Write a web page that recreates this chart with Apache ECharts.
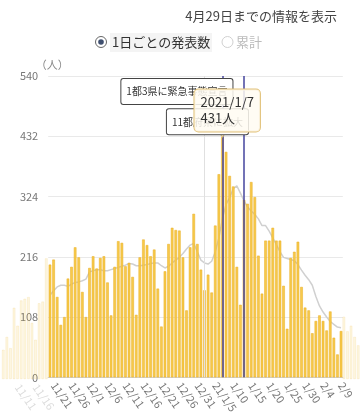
<!DOCTYPE html>
<html><head><meta charset="utf-8">
<script src="https://cdn.jsdelivr.net/npm/echarts@6/dist/echarts.min.js"></script>
<style>html,body{margin:0;padding:0;background:#fff;}#c{width:360px;height:416px;}</style>
</head><body><div id="c"></div>
<script>
// ---- data ----
const fadedLeftDates = ['11/7','11/8','11/9','11/10','11/11','11/12','11/13','11/14','11/15','11/16','11/17','11/18','11/19'];
const fadedLeftValues = [52,75,55,127,95,140,143,146,100,70,135,138,215];
const dates = ['11/20','11/21','11/22','11/23','11/24','11/25','11/26','11/27','11/28','11/29','11/30',
 '12/1','12/2','12/3','12/4','12/5','12/6','12/7','12/8','12/9','12/10','12/11','12/12','12/13','12/14','12/15','12/16','12/17','12/18','12/19','12/20','12/21','12/22','12/23','12/24','12/25','12/26','12/27','12/28','12/29','12/30','12/31',
 '1/1','1/2','1/3','1/4','1/5','1/6','1/7','1/8','1/9','1/10','1/11','1/12','1/13','1/14','1/15','1/16','1/17','1/18','1/19','1/20','1/21','1/22','1/23','1/24','1/25','1/26','1/27','1/28','1/29','1/30','1/31',
 '2/1','2/2','2/3','2/4','2/5','2/6','2/7','2/8','2/9'];
const dailyCounts = [202,211,144,94,108,177,198,233,215,153,
 108,196,217,195,214,217,170,111,198,244,
 241,199,205,180,112,215,247,237,217,229,
 159,91,190,239,268,264,263,215,120,233,
 293,239,193,156,184,152,272,364,431,404,
 361,342,198,130,318,311,350,323,218,150,
 245,245,268,245,245,164,87,214,225,243,
 162,125,120,79,101,111,101,84,118,71,
 41,83];
const weeklyAverage = [147,155,162,165,165,163,167,170,171,173,
 176,189,191,193,193,191,191,193,195,197,
 199,201,204,203,200,200,201,202,204,205,
 205,200,196,199,205,210,215,222,230,237,
 240,225,210,205,203,208,225,250,285,310,
 322,338,343,330,316,305,298,292,284,272,
 272,262,250,238,225,215,213,211,209,202,
 192,183,175,165,145,128,117,108,100,95,
 90,89];
const fadedRightDates = ['2/10','2/11','2/12','2/13','2/14'];
const fadedRightValues = [111,85,95,75,60];
const yTicks = [0,108,216,324,432,540];
const labelDates = ['11/21','11/26','12/1','12/6','12/11','12/16','12/21','12/26','12/31','1/5','1/10','1/15','1/20','1/25','1/30','2/4','2/9'];
const labelTexts = ['11/21','11/26','12/1','12/6','12/11','12/16','12/21','12/26','12/31','21/1/5','1/10','1/15','1/20','1/25','1/30','2/4','2/9'];
const fadedLabelDates = ['11/11','11/16'];
const eventDates = ['1/7','1/13'];
const eventTexts = ['1都3県に緊急事態宣言','11都府県に拡大'];
const yearLineDate = '1/2';
const highlightYear = '2021';
const highlightDate = '1/7';

// ---- build ----
const allDates = fadedLeftDates.concat(dates, fadedRightDates);
const fadedValues = fadedLeftValues.concat(dates.map(() => null), fadedRightValues);
const hiIdx = dates.indexOf(highlightDate);
const hiVal = dailyCounts[hiIdx];

const CAT = 3.593;
const mainLeft = 48.2, mainWidth = CAT * dates.length;
const allLeft = mainLeft - CAT * fadedLeftDates.length, allWidth = CAT * allDates.length;
const TOP = 76, BOTTOM = 37;
const FONT = '"Noto Sans CJK JP","Noto Sans",sans-serif';

const chart = echarts.init(document.getElementById('c'), null, {renderer: 'canvas'});
chart.setOption({
  animation: false,
  textStyle: {fontFamily: FONT},
  title: {
    text: '4月29日までの情報を表示', right: 18, top: 5,
    textStyle: {fontSize: 13, fontWeight: 'normal', color: '#444', fontFamily: FONT}
  },
  graphic: [
    {type: 'rect', shape: {x: 110, y: 33, width: 102, height: 19}, style: {fill: '#f4f4f4'}},
    {type: 'circle', shape: {cx: 101, cy: 42, r: 5.5}, style: {fill: '#fff', stroke: '#666', lineWidth: 1}},
    {type: 'circle', shape: {cx: 101, cy: 42, r: 2.8}, style: {fill: '#3f4f6f'}},
    {type: 'text', x: 112, y: 42, style: {text: '1日ごとの発表数', fill: '#333', verticalAlign: 'middle', font: '13px ' + FONT}},
    {type: 'circle', shape: {cx: 227.5, cy: 42, r: 5.5}, style: {fill: '#fff', stroke: '#d0d0d0', lineWidth: 1}},
    {type: 'text', x: 236, y: 42, style: {text: '累計', fill: '#bbb', verticalAlign: 'middle', font: '13px ' + FONT}}
  ],
  grid: [
    {left: allLeft, width: allWidth, top: TOP, bottom: BOTTOM},
    {left: mainLeft, width: mainWidth, top: TOP, bottom: BOTTOM}
  ],
  xAxis: [
    {type: 'category', gridIndex: 0, data: allDates,
     axisLine: {show: false}, axisTick: {show: false},
     axisLabel: {interval: (i, v) => fadedLabelDates.indexOf(v) >= 0, rotate: -55, margin: 6,
                 color: '#dcdcdc', fontSize: 11}},
    {type: 'category', gridIndex: 1, data: dates,
     axisLine: {lineStyle: {color: '#cfcfcf'}}, axisTick: {show: false},
     axisLabel: {interval: (i, v) => labelDates.indexOf(v) >= 0, rotate: -55, margin: 6,
                 color: '#777', fontSize: 11,
                 formatter: v => { const k = labelDates.indexOf(v); return k >= 0 ? labelTexts[k] : v; }}}
  ],
  yAxis: [
    {type: 'value', gridIndex: 0, min: yTicks[0], max: yTicks[yTicks.length - 1], interval: yTicks[1] - yTicks[0],
     show: false},
    {type: 'value', gridIndex: 1, min: yTicks[0], max: yTicks[yTicks.length - 1], interval: yTicks[1] - yTicks[0],
     name: '（人）', nameLocation: 'end', nameGap: 3,
     nameTextStyle: {color: '#888', fontSize: 11, align: 'center', padding: [0, 0, 0, 8]},
     axisLine: {show: false}, axisTick: {show: false},
     axisLabel: {color: '#777', fontSize: 11, margin: 10},
     splitLine: {lineStyle: {color: '#e9e9e9'}}}
  ],
  series: [
    {type: 'bar', xAxisIndex: 0, yAxisIndex: 0, data: fadedValues, barCategoryGap: '28%', z: 1,
     itemStyle: {color: 'rgba(246,201,69,0.17)', borderColor: 'rgba(228,168,21,0.22)', borderWidth: 0.5},
     emphasis: {disabled: true}},
    {type: 'line', xAxisIndex: 1, yAxisIndex: 1, data: weeklyAverage, z: 2,
     symbol: 'none', smooth: false,
     lineStyle: {color: '#d0d0d0', width: 1.5},
     markLine: {
       silent: true, symbol: ['none', 'none'],
       label: {show: false},
       data: [
         {xAxis: yearLineDate, lineStyle: {color: '#e0e0e0', width: 1, type: 'solid'}},
         {xAxis: eventDates[0], lineStyle: {color: '#44449e', width: 1.5, type: 'solid'}},
         {xAxis: eventDates[1], lineStyle: {color: '#44449e', width: 1.5, type: 'solid'}}
       ]
     }},
    {type: 'bar', xAxisIndex: 1, yAxisIndex: 1, data: dailyCounts, barCategoryGap: '28%', z: 3,
     itemStyle: {color: '#f7ca4a', borderColor: '#e8ad22', borderWidth: 0.5},
     markPoint: {
       silent: true,
       data: [
         {coord: [eventDates[0], 512], symbol: 'rect', symbolSize: 0,
          label: {show: true, position: 'left', distance: 0, offset: [10, 0], formatter: eventTexts[0],
                  fontSize: 10, lineHeight: 12, color: '#333', backgroundColor: '#fff',
                  borderColor: '#444', borderWidth: 1, borderRadius: 2, padding: [7, 5, 6, 5]}},
         {coord: [eventDates[1], 458], symbol: 'rect', symbolSize: 0,
          label: {show: true, position: 'left', distance: 0, offset: [4, 0], formatter: eventTexts[1],
                  fontSize: 10, lineHeight: 12, color: '#333', backgroundColor: '#fff',
                  borderColor: '#444', borderWidth: 1, borderRadius: 2, padding: [7, 5, 6, 5]}},
         {coord: [highlightDate, hiVal], symbol: 'triangle', symbolRotate: 180, symbolSize: [10, 6],
          symbolOffset: [0, -3],
          itemStyle: {color: '#fffaf0', borderColor: '#e2c27a', borderWidth: 1},
          label: {show: true, position: 'top', distance: -1, offset: [-28, 0],
                  formatter: highlightYear + '/' + highlightDate + '\n' + hiVal + '人',
                  fontSize: 13, lineHeight: 16, color: '#333', align: 'left',
                  backgroundColor: 'rgba(255,252,242,0.85)', borderColor: '#e2c27a', borderWidth: 1,
                  borderRadius: 4, padding: [5, 6, 5, 6]}}
       ]
     }}
  ]
});
</script></body></html>
